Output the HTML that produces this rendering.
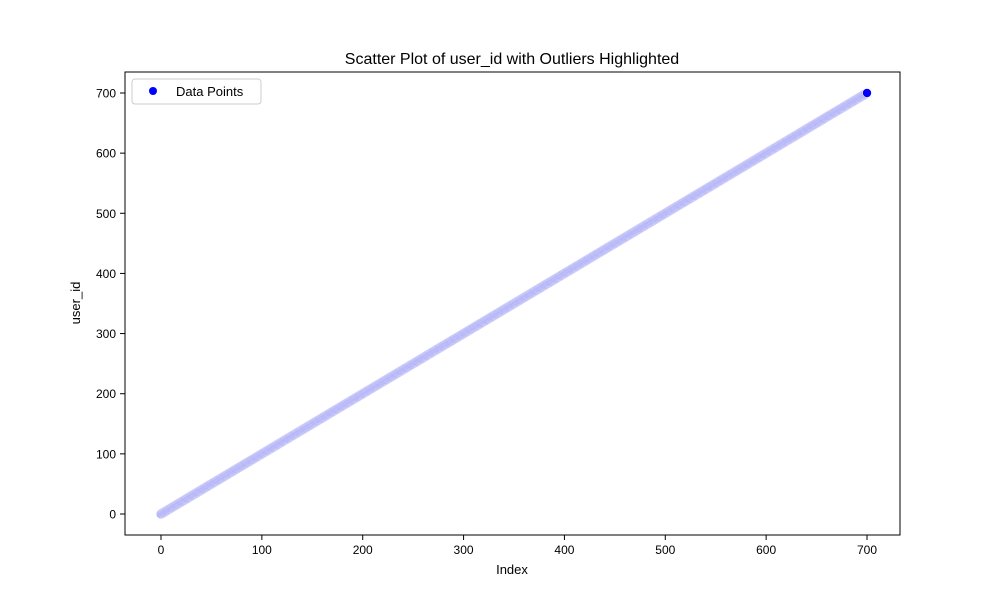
<!DOCTYPE html>
<html><head><meta charset="utf-8"><style>
body{margin:0;background:#fff;font-family:"Liberation Sans","DejaVu Sans",sans-serif}
</style></head><body>
<svg id="chart" width="1000" height="600" xmlns="http://www.w3.org/2000/svg" font-family="Liberation Sans, DejaVu Sans, sans-serif">
<rect width="1000" height="600" fill="#fff"/>
<text x="512" y="64" font-size="16" text-anchor="middle">Scatter Plot of user_id with Outliers Highlighted</text>
<g id="points"></g>
<g id="xticks"></g>
<g id="yticks"></g>
<rect x="125" y="72" width="775" height="463" fill="none" stroke="#000" stroke-width="1"/>
<text x="512" y="574" font-size="13" text-anchor="middle">Index</text>
<text transform="translate(80,303) rotate(-90)" font-size="13" text-anchor="middle">user_id</text>
<g>
<rect x="132" y="79" width="129" height="25" rx="3" fill="#fff" stroke="#ccc"/>
<circle cx="153" cy="91" r="4" fill="#0000ff"/>
<text x="176" y="96" font-size="13">Data Points</text>
</g>
</svg>
<script>
const xTicks=[0,100,200,300,400,500,600,700];
const yTicks=[0,100,200,300,400,500,600,700];
const userIds=[0,1,2,3,4,5,6,7,8,9,10,11,12,13,14,15,16,17,18,19,20,21,22,23,24,25,26,27,28,29,30,31,32,33,34,35,36,37,38,39,40,41,42,43,44,45,46,47,48,49,50,51,52,53,54,55,56,57,58,59,60,61,62,63,64,65,66,67,68,69,70,71,72,73,74,75,76,77,78,79,80,81,82,83,84,85,86,87,88,89,90,91,92,93,94,95,96,97,98,99,100,101,102,103,104,105,106,107,108,109,110,111,112,113,114,115,116,117,118,119,120,121,122,123,124,125,126,127,128,129,130,131,132,133,134,135,136,137,138,139,140,141,142,143,144,145,146,147,148,149,150,151,152,153,154,155,156,157,158,159,160,161,162,163,164,165,166,167,168,169,170,171,172,173,174,175,176,177,178,179,180,181,182,183,184,185,186,187,188,189,190,191,192,193,194,195,196,197,198,199,200,201,202,203,204,205,206,207,208,209,210,211,212,213,214,215,216,217,218,219,220,221,222,223,224,225,226,227,228,229,230,231,232,233,234,235,236,237,238,239,240,241,242,243,244,245,246,247,248,249,250,251,252,253,254,255,256,257,258,259,260,261,262,263,264,265,266,267,268,269,270,271,272,273,274,275,276,277,278,279,280,281,282,283,284,285,286,287,288,289,290,291,292,293,294,295,296,297,298,299,300,301,302,303,304,305,306,307,308,309,310,311,312,313,314,315,316,317,318,319,320,321,322,323,324,325,326,327,328,329,330,331,332,333,334,335,336,337,338,339,340,341,342,343,344,345,346,347,348,349,350,351,352,353,354,355,356,357,358,359,360,361,362,363,364,365,366,367,368,369,370,371,372,373,374,375,376,377,378,379,380,381,382,383,384,385,386,387,388,389,390,391,392,393,394,395,396,397,398,399,400,401,402,403,404,405,406,407,408,409,410,411,412,413,414,415,416,417,418,419,420,421,422,423,424,425,426,427,428,429,430,431,432,433,434,435,436,437,438,439,440,441,442,443,444,445,446,447,448,449,450,451,452,453,454,455,456,457,458,459,460,461,462,463,464,465,466,467,468,469,470,471,472,473,474,475,476,477,478,479,480,481,482,483,484,485,486,487,488,489,490,491,492,493,494,495,496,497,498,499,500,501,502,503,504,505,506,507,508,509,510,511,512,513,514,515,516,517,518,519,520,521,522,523,524,525,526,527,528,529,530,531,532,533,534,535,536,537,538,539,540,541,542,543,544,545,546,547,548,549,550,551,552,553,554,555,556,557,558,559,560,561,562,563,564,565,566,567,568,569,570,571,572,573,574,575,576,577,578,579,580,581,582,583,584,585,586,587,588,589,590,591,592,593,594,595,596,597,598,599,600,601,602,603,604,605,606,607,608,609,610,611,612,613,614,615,616,617,618,619,620,621,622,623,624,625,626,627,628,629,630,631,632,633,634,635,636,637,638,639,640,641,642,643,644,645,646,647,648,649,650,651,652,653,654,655,656,657,658,659,660,661,662,663,664,665,666,667,668,669,670,671,672,673,674,675,676,677,678,679,680,681,682,683,684,685,686,687,688,689,690,691,692,693,694,695,696,697,698,699,700];
const NS="http://www.w3.org/2000/svg";
const xS=v=>161+v*(867-161)/700;
const yS=v=>514-v*(514-93)/700;
function mk(t,a,p){const e=document.createElementNS(NS,t);for(const k in a)e.setAttribute(k,a[k]);p.appendChild(e);return e;}
const pg=document.getElementById('points');
userIds.forEach((v,i)=>{
  const last=i===userIds.length-1;
  const c=mk('circle',last?{cx:xS(i),cy:yS(v),r:4.5,fill:'#0000ff',stroke:'#fff','stroke-width':0.6}:{cx:xS(i),cy:yS(v),r:4.5,fill:'#a4a4f6',stroke:'#d0d0fa','stroke-width':0.6},pg);
  
  
});
const xg=document.getElementById('xticks');
xTicks.forEach(t=>{
  const x=xS(t);
  const l=mk('line',{x1:x,x2:x,y1:535,y2:540,stroke:'#000'},xg);
  
  
  const tx=mk('text',{x:x,y:554,'font-size':12,'text-anchor':'middle'},xg);
  tx.textContent=t;
  
  
});
const yg=document.getElementById('yticks');
yTicks.forEach(t=>{
  const y=yS(t);
  const l=mk('line',{x1:120,x2:125,y1:y,y2:y,stroke:'#000'},yg);
  
  
  const tx=mk('text',{x:116,y:y+4.5,'font-size':12,'text-anchor':'end'},yg);
  tx.textContent=t;
  
  
});
</script>
</body></html>
